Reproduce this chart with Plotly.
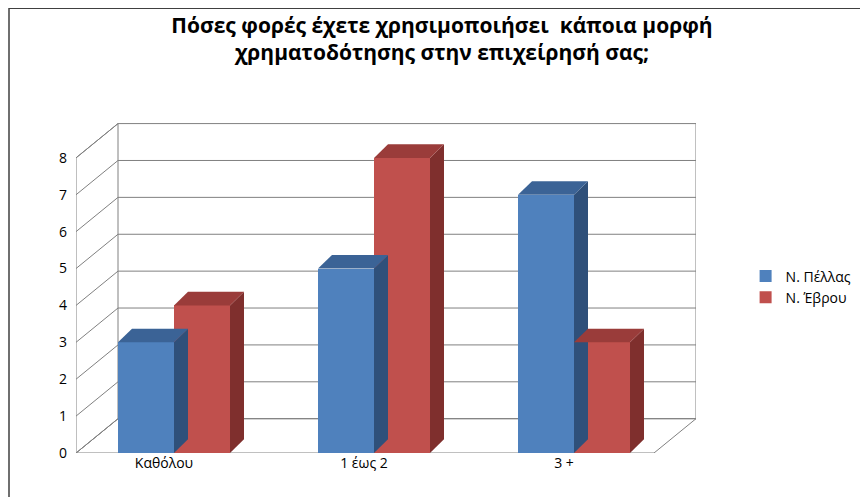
import plotly.graph_objects as go

categories = ["Καθόλου", "1 έως 2", "3 +"]
pellas = [3, 5, 7]
evrou = [4, 8, 3]
series_names = ["Ν. Πέλλας", "Ν. Έβρου"]
y_ticks = [0, 1, 2, 3, 4, 5, 6, 7, 8]

front = ["#4F81BD", "#C0504D"]
side = ["#2F507A", "#7F2F2D"]
top = ["#3B6396", "#9A3C3A"]

xmin, xmax = -0.49, 2.61
bw, ddx, ddy = 0.28, 0.07, 0.37
wdx, wdy = 0.21, 0.93
xs = list(range(len(categories)))

fig = go.Figure()
shapes = []
shapes.append(dict(type="path", layer="below", xref="x", yref="y",
    path=f"M{xmin},0 L{xmin+wdx},{wdy} L{xmax},{wdy} L{xmax-wdx},0 Z",
    line=dict(color="#808080", width=1), fillcolor="white"))
shapes.append(dict(type="path", layer="below", xref="x", yref="y",
    path=f"M{xmin},0 L{xmin},{y_ticks[-1]} L{xmin+wdx},{y_ticks[-1]+wdy} L{xmin+wdx},{wdy} Z",
    line=dict(color="#808080", width=1), fillcolor="white"))
for v in y_ticks:
    shapes.append(dict(type="path", layer="below", xref="x", yref="y",
        path=f"M{xmin},{v} L{xmin+wdx},{v+wdy} L{xmax},{v+wdy}",
        line=dict(color="#808080", width=1)))
shapes.append(dict(type="line", layer="below", xref="x", yref="y",
    x0=xmax, x1=xmax, y0=wdy, y1=y_ticks[-1] + wdy, line=dict(color="#808080", width=1)))

for s, vals in enumerate([pellas, evrou]):
    off = -bw / 2 if s == 0 else bw / 2
    fig.add_trace(go.Bar(x=[x + off for x in xs], y=vals, width=bw, name=series_names[s],
                         marker=dict(color=front[s], line=dict(width=0))))
    for x, v in zip(xs, vals):
        l, r = x + off - bw / 2, x + off + bw / 2
        shapes.append(dict(type="path", xref="x", yref="y", layer="above",
            path=f"M{r},0 L{r+ddx},{ddy} L{r+ddx},{v+ddy} L{r},{v} Z",
            fillcolor=side[s], line=dict(width=0)))
        shapes.append(dict(type="path", xref="x", yref="y", layer="above",
            path=f"M{l},{v} L{l+ddx},{v+ddy} L{r+ddx},{v+ddy} L{r},{v} Z",
            fillcolor=top[s], line=dict(width=0)))

pw, ph = 620, 330
shapes.append(dict(type="rect", xref="paper", yref="paper", x0=(-68 + 1) / pw, x1=1 + (180 - 2) / pw,
                   y0=(-52 + 2) / ph, y1=1 + (113 - 1) / ph, line=dict(color="#404040", width=1.5)))

fig.update_layout(
    width=868, height=497, margin=dict(l=68, r=180, t=113, b=52),
    paper_bgcolor="white", plot_bgcolor="white", barmode="overlay", bargap=0,
    shapes=shapes,
    title=dict(text="<b>Πόσες φορές έχετε χρησιμοποιήσει  κάποια μορφή<br>χρηματοδότησης στην επιχείρησή σας;</b>",
               x=0.5, xanchor="center", y=0.95, yanchor="top",
               font=dict(family="Open Sans", size=21, color="black")),
    font=dict(family="Open Sans", size=14, color="black"),
    xaxis=dict(range=[xmin, xmax], tickvals=[x - 0.05 for x in xs], ticktext=categories,
               showgrid=False, zeroline=False, showline=False, ticks=""),
    yaxis=dict(range=[0, 9], tickvals=y_ticks, showgrid=False, zeroline=False,
               showline=False, ticks="", ticklabelstandoff=8),
    legend=dict(x=1.08, y=0.5, yanchor="middle", font=dict(size=14), tracegroupgap=12),
    showlegend=True,
)
fig.write_html("out.html")
